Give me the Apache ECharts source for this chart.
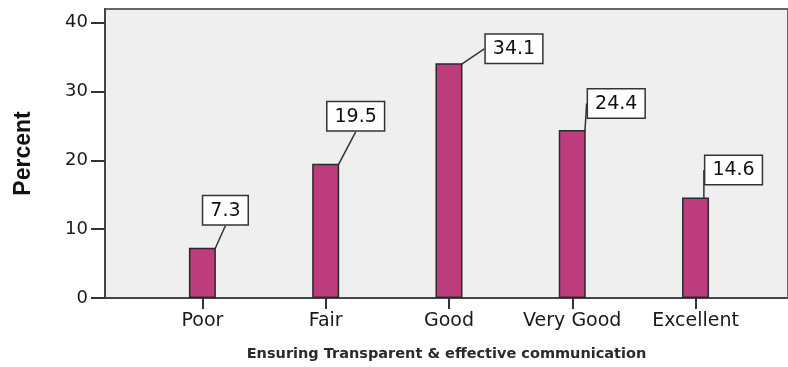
<!DOCTYPE html>
<html>
<head>
<meta charset="utf-8">
<script src="https://cdn.jsdelivr.net/npm/echarts@6/dist/echarts.min.js"></script>
<style>
  html, body { margin: 0; padding: 0; background: #fff; }
  #chart { width: 788px; height: 367px; }
</style>
</head>
<body>
<div id="chart"></div>
<script>
// 数据
const categories = ["Poor", "Fair", "Good", "Very Good", "Excellent"];
const percents = [7.3, 19.5, 34.1, 24.4, 14.6];
const yTicks = [0, 10, 20, 30, 40];
// label box offsets from bar top-centre (px)
const labelOffsets = [[23, -39], [30, -49], [65, -16], [44, -28], [38, -29]];

const chart = echarts.init(document.getElementById("chart"));

const options = {
  animation: false,
  grid: {
    left: 105,
    top: 9,
    right: -3,
    bottom: 67,
    show: true,
    backgroundColor: "#efefef",
    borderColor: "#666",
    borderWidth: 2,
  },
  xAxis: {
    type: "value",
    min: -0.79,
    max: 4.75,
    name: "Ensuring Transparent & effective communication",
    nameLocation: "middle",
    nameGap: 49,
    nameTextStyle: {
      fontFamily: "DejaVu Sans",
      fontWeight: "bold",
      fontSize: 14.5,
      color: "#2a2a2a",
    },
    axisLine: { show: true, onZero: false, lineStyle: { color: "#444", width: 2 } },
    axisTick: {
      show: true,
      customValues: [0, 1, 2, 3, 4],
      length: 11,
      lineStyle: { color: "#333", width: 2 },
    },
    axisLabel: {
      customValues: [0, 1, 2, 3, 4],
      formatter: (v) => categories[Math.round(v)],
      fontFamily: "DejaVu Sans",
      fontSize: 19,
      color: "#1a1a1a",
      margin: 14,
    },
    splitLine: { show: false },
  },
  yAxis: {
    type: "value",
    min: 0,
    max: 42,
    name: "Percent",
    nameLocation: "middle",
    nameGap: 70,
    nameTextStyle: {
      fontFamily: "Liberation Sans",
      fontWeight: "bold",
      fontSize: 23,
      color: "#111",
    },
    axisLine: { show: true, onZero: false, lineStyle: { color: "#444", width: 2 } },
    axisTick: {
      show: true,
      customValues: yTicks,
      length: 14,
      lineStyle: { color: "#333", width: 2 },
    },
    axisLabel: {
      customValues: yTicks,
      fontFamily: "DejaVu Sans",
      fontSize: 18,
      color: "#1a1a1a",
      margin: 17,
    },
    splitLine: { show: false },
  },
  series: [
    {
      type: "bar",
      barWidth: 27,
      data: percents.map((v, i) => [i, v]),
      itemStyle: {
        color: "#bc3c7c",
        borderColor: "#2a2a2a",
        borderWidth: 1.5,
      },
      label: {
        show: true,
        position: "top",
        distance: 0,
        formatter: (p) => p.value[1].toFixed(1),
        fontFamily: "DejaVu Sans",
        fontSize: 19,
        color: "#111",
        backgroundColor: "#fff",
        borderColor: "#333",
        borderWidth: 1.5,
        padding: [5, 7, 4, 7],
      },
      labelLine: {
        show: true,
        lineStyle: { color: "#333", width: 1.5 },
      },
      labelLayout: (params) => {
        const o = labelOffsets[params.dataIndex];
        return { dx: o[0], dy: o[1] + params.labelRect.height / 2 };
      },
    },
  ],
};

chart.setOption(options);
</script>
</body>
</html>
